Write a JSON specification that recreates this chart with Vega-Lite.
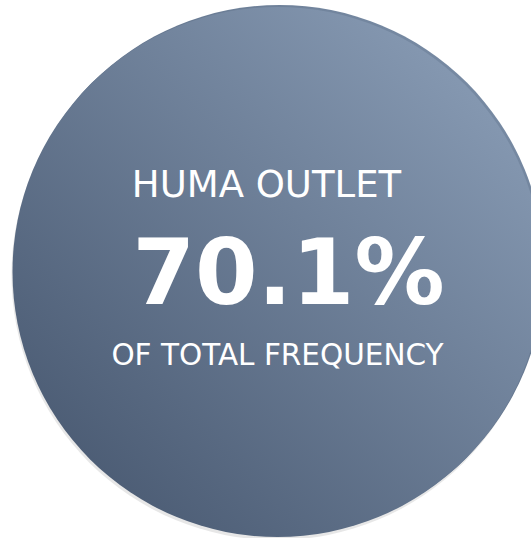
{
  "$schema": "https://vega.github.io/schema/vega-lite/v6.json",
  "width": 531,
  "height": 538,
  "autosize": {"type": "fit", "contains": "padding"},
  "padding": {"left": 25, "top": 6, "right": 0, "bottom": 0},
  "background": "white",
  "config": {"view": {"stroke": null}},
  "data": {"values": [{"title": "HUMA OUTLET", "share": 0.701, "caption": "OF TOTAL FREQUENCY"}]},
  "layer": [
    {
      "mark": {"type": "arc", "outerRadius": 265, "xOffset": -1, "yOffset": 3, "fill": "#d0d0d0", "opacity": 0.5},
      "encoding": {"theta": {"field": "share", "type": "quantitative"}}
    },
    {
      "mark": {"type": "arc", "outerRadius": 265, "xOffset": 2, "yOffset": -2,
        "fill": {"gradient": "linear", "x1": 0, "y1": 1, "x2": 1, "y2": 0,
          "stops": [{"offset": 0, "color": "#3e4d63"}, {"offset": 0.85, "color": "#7689a2"}, {"offset": 1, "color": "#7d90a9"}]}},
      "encoding": {"theta": {"field": "share", "type": "quantitative"}}
    },
    {
      "mark": {"type": "arc", "outerRadius": 265,
        "fill": {"gradient": "linear", "x1": 0, "y1": 1, "x2": 1, "y2": 0,
          "stops": [{"offset": 0, "color": "#42526a"}, {"offset": 0.85, "color": "#8497b0"}, {"offset": 1, "color": "#8a9db5"}]}},
      "encoding": {"theta": {"field": "share", "type": "quantitative"}}
    },
    {
      "mark": {"type": "text", "font": "DejaVu Sans", "fontSize": 37, "color": "white", "baseline": "alphabetic", "align": "center", "dx": -11, "dy": -75},
      "encoding": {"text": {"field": "title", "type": "nominal"}}
    },
    {
      "mark": {"type": "text", "font": "DejaVu Sans", "fontSize": 90, "fontWeight": "bold", "color": "white", "baseline": "alphabetic", "align": "center", "dx": 11, "dy": 32},
      "encoding": {"text": {"field": "share", "type": "quantitative", "format": ".1%"}}
    },
    {
      "mark": {"type": "text", "font": "DejaVu Sans", "fontSize": 29.5, "color": "white", "baseline": "alphabetic", "align": "center", "dx": 0, "dy": 93},
      "encoding": {"text": {"field": "caption", "type": "nominal"}}
    }
  ]
}
